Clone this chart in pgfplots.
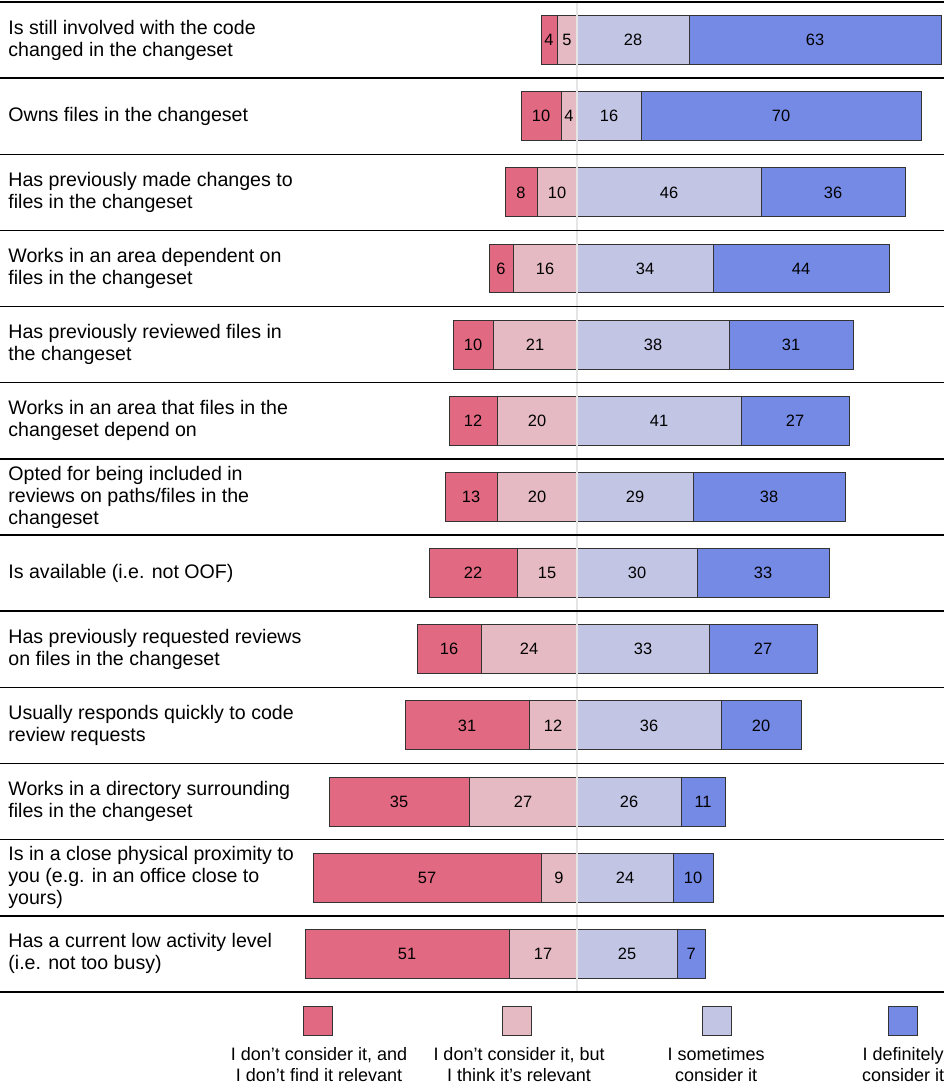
\documentclass[border=0pt]{standalone}
\usepackage{fontspec}
\setmainfont{Liberation Sans}
\usepackage{pgfplots}
\pgfplotsset{compat=1.18}
\usepackage{pgfplotstable}

\definecolor{redc}{HTML}{E16982}
\definecolor{pinkc}{HTML}{E5BAC2}
\definecolor{lavc}{HTML}{C2C5E4}
\definecolor{bluec}{HTML}{748AE5}

\pgfplotstableread{
row a b c d
1 4 5 28 63
2 10 4 16 70
3 8 10 46 36
4 6 16 34 44
5 10 21 38 31
6 12 20 41 27
7 13 20 29 38
8 22 15 30 33
9 16 24 33 27
10 31 12 36 20
11 35 27 26 11
12 57 9 24 10
13 51 17 25 7
}\datatable

\tikzset{
  catlab/.style={anchor=west, align=left, inner sep=0pt, font=\fontsize{9.8}{11}\selectfont},
  legbox/.style={draw=black!80, line width=0.5pt, minimum size=14.5pt, inner sep=0pt},
  legtxt/.style={align=center, font=\fontsize{9}{10.5}\selectfont},
  sep/.style={black, line width=0.75pt},
}
\pgfplotsset{
  mybar/.style={xbar, bar shift=0pt, bar width=0.643, draw=black!80, line width=0.5pt},
  mylab/.style={only marks, mark=none, draw=none, nodes near coords, point meta=explicit,
    every node near coord/.style={anchor=center, font=\fontsize{8.2}{9}\selectfont, text=black}},
}

\begin{document}
\begin{tikzpicture}
\begin{axis}[
  scale only axis, width=472pt, height=542pt,
  xmin=-144.25, xmax=91.75, ymin=0.474, ymax=14.709,
  y dir=reverse, hide axis, clip=false,
  /pgf/number format/assume math mode=true,
]
\addplot[mybar, fill=bluec] table[x expr=\thisrow{c}+\thisrow{d}, y=row] {\datatable};
\addplot[mybar, fill=lavc] table[x=c, y=row] {\datatable};
\addplot[mybar, fill=redc] table[x expr=-\thisrow{a}-\thisrow{b}, y=row] {\datatable};
\addplot[mybar, fill=pinkc] table[x expr=-\thisrow{b}, y=row] {\datatable};
\addplot[mylab] table[x expr=-\thisrow{b}-\thisrow{a}/2, y=row, meta=a] {\datatable};
\addplot[mylab] table[x expr=-\thisrow{b}/2, y=row, meta=b] {\datatable};
\addplot[mylab] table[x expr=\thisrow{c}/2, y=row, meta=c] {\datatable};
\addplot[mylab] table[x expr=\thisrow{c}+\thisrow{d}/2, y=row, meta=d] {\datatable};
\coordinate (bl) at (rel axis cs:0,0);
\coordinate (tr) at (rel axis cs:1,1);
\draw[gray!20, line width=1pt] (axis cs:0,0.5) -- (axis cs:0,13.5);
\draw[sep] (axis cs:-144.25,0.5) -- (axis cs:91.75,0.5);
\draw[sep] (axis cs:-144.25,1.5) -- (axis cs:91.75,1.5);
\draw[sep] (axis cs:-144.25,2.5) -- (axis cs:91.75,2.5);
\draw[sep] (axis cs:-144.25,3.5) -- (axis cs:91.75,3.5);
\draw[sep] (axis cs:-144.25,4.5) -- (axis cs:91.75,4.5);
\draw[sep] (axis cs:-144.25,5.5) -- (axis cs:91.75,5.5);
\draw[sep] (axis cs:-144.25,6.5) -- (axis cs:91.75,6.5);
\draw[sep] (axis cs:-144.25,7.5) -- (axis cs:91.75,7.5);
\draw[sep] (axis cs:-144.25,8.5) -- (axis cs:91.75,8.5);
\draw[sep] (axis cs:-144.25,9.5) -- (axis cs:91.75,9.5);
\draw[sep] (axis cs:-144.25,10.5) -- (axis cs:91.75,10.5);
\draw[sep] (axis cs:-144.25,11.5) -- (axis cs:91.75,11.5);
\draw[sep] (axis cs:-144.25,12.5) -- (axis cs:91.75,12.5);
\draw[sep] (axis cs:-144.25,13.5) -- (axis cs:91.75,13.5);
\node[catlab] at (axis cs:-142.25,1) {Is still involved with the code\\changed in the changeset};
\node[catlab] at (axis cs:-142.25,2) {Owns files in the changeset};
\node[catlab] at (axis cs:-142.25,3) {Has previously made changes to\\files in the changeset};
\node[catlab] at (axis cs:-142.25,4) {Works in an area dependent on\\files in the changeset};
\node[catlab] at (axis cs:-142.25,5) {Has previously reviewed files in\\the changeset};
\node[catlab] at (axis cs:-142.25,6) {Works in an area that files in the\\changeset depend on};
\node[catlab] at (axis cs:-142.25,7) {Opted for being included in\\reviews on paths/files in the\\changeset};
\node[catlab] at (axis cs:-142.25,8) {Is available (i.e. not OOF)};
\node[catlab] at (axis cs:-142.25,9) {Has previously requested reviews\\on files in the changeset};
\node[catlab] at (axis cs:-142.25,10) {Usually responds quickly to code\\review requests};
\node[catlab] at (axis cs:-142.25,11) {Works in a directory surrounding\\files in the changeset};
\node[catlab] at (axis cs:-142.25,12) {Is in a close physical proximity to\\you (e.g. in an office close to\\yours)};
\node[catlab] at (axis cs:-142.25,13) {Has a current low activity level\\(i.e. not too busy)};
\node[legbox, fill=redc] at (axis cs:-64.75,13.882) {};
\node[legbox, fill=pinkc] at (axis cs:-15,13.882) {};
\node[legbox, fill=lavc] at (axis cs:35,13.882) {};
\node[legbox, fill=bluec] at (axis cs:81.5,13.882) {};
\node[legtxt] at (axis cs:-64.5,14.453) {I don’t consider it, and\\I don’t find it relevant};
\node[legtxt] at (axis cs:-14.5,14.453) {I don’t consider it, but\\I think it’s relevant};
\node[legtxt] at (axis cs:34.75,14.453) {I sometimes\\consider it};
\node[legtxt] at (axis cs:81.5,14.453) {I definitely\\consider it};
\end{axis}
\pgfresetboundingbox
\path[use as bounding box] (bl) rectangle (tr);
\end{tikzpicture}
\end{document}
